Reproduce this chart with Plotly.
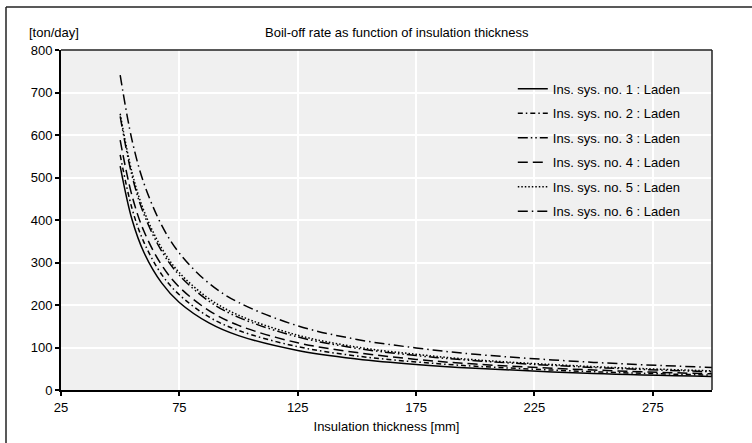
import plotly.graph_objects as go

thickness = [50, 55, 60, 67.5, 75, 87.5, 100, 125, 150, 175, 200, 250, 300]
sys1 = [527, 401, 324, 252, 206, 158, 128, 93, 73, 60, 51, 39, 32]
sys2 = [553, 427, 348, 272, 224, 172, 140, 102, 80, 66, 56, 43, 35]
sys3 = [644, 504, 414, 327, 270, 209, 171, 125, 98, 81, 69, 53, 43]
sys4 = [588, 457, 374, 294, 242, 187, 152, 111, 88, 72, 61, 47, 38]
sys5 = [650, 512, 422, 334, 276, 215, 176, 129, 101, 84, 71, 55, 45]
sys6 = [741, 588, 487, 388, 322, 251, 206, 151, 119, 99, 84, 65, 53]

names = ["Ins. sys. no. %d : Laden" % i for i in range(1, 7)]
series = [sys1, sys2, sys3, sys4, sys5, sys6]
dashes = ["solid", "5px,3px,1.5px,3px", "10px,3px,1.5px,3px,1.5px,3px",
          "10px,5px", "1.5px,2px", "10px,4px,1.5px,4px"]

x_ticks = [25, 75, 125, 175, 225, 275]
y_ticks = [0, 100, 200, 300, 400, 500, 600, 700, 800]

FONT = "Liberation Sans, Arial, sans-serif"
FS = 13

fig = go.Figure()
for i, (nm, ys, dsh) in enumerate(zip(names, series, dashes)):
    fig.add_trace(go.Scatter(
        x=thickness, y=ys, name=nm, mode="lines",
        line=dict(color="black", width=1.5, dash=dsh, shape="spline", smoothing=1.0),
        legendgroup="g%d" % i,
    ))

fig.update_layout(
    width=752, height=443,
    margin=dict(l=61, r=40, t=50, b=53, autoexpand=False),
    paper_bgcolor="white",
    plot_bgcolor="#f0f0f0",
    font=dict(family=FONT, size=FS, color="black"),
    showlegend=True,
    legend=dict(x=0.694, y=0.93, xanchor="left", yanchor="top",
                bgcolor="rgba(0,0,0,0)", borderwidth=0,
                font=dict(family=FONT, size=FS, color="black"),
                tracegroupgap=4.6, itemwidth=30),
    xaxis=dict(range=[25, 300], tickvals=x_ticks, ticktext=[str(v) for v in x_ticks],
               showgrid=True, gridcolor="white", gridwidth=2,
               showline=True, linecolor="black", linewidth=2,
               ticks="outside", ticklen=4, tickwidth=1.5, tickcolor="black",
               zeroline=False, mirror=False, automargin=False,
               title=dict(text="Insulation thickness [mm]", font=dict(size=FS), standoff=8)),
    yaxis=dict(range=[0, 800], tickvals=y_ticks,
               showgrid=True, gridcolor="white", gridwidth=2,
               showline=True, linecolor="black", linewidth=2,
               ticks="outside", ticklen=4, tickwidth=1.5, tickcolor="black",
               zeroline=False, mirror=False, automargin=False),
    annotations=[
        dict(text="Boil-off rate as function of insulation thickness", xref="paper", yref="paper",
             x=(397 - 61) / 651, y=1.0, yshift=18, showarrow=False, xanchor="center", yanchor="middle",
             font=dict(size=FS)),
        dict(text="[ton/day]", xref="paper", yref="paper",
             x=-34 / 651, y=1.0, yshift=18, showarrow=False, xanchor="left", yanchor="middle",
             font=dict(size=FS)),
    ],
    shapes=[
        dict(type="line", xref="paper", yref="paper", x0=0, x1=1, y0=1, y1=1,
             line=dict(color="#222222", width=1.5)),
        dict(type="line", xref="paper", yref="paper", x0=1, x1=1, y0=0, y1=1,
             line=dict(color="#222222", width=1.5)),
        dict(type="line", xref="paper", yref="paper", x0=-55 / 651, x1=-55 / 651,
             y0=-60 / 340, y1=(390 - 7) / 340, line=dict(color="#222222", width=1.5)),
        dict(type="line", xref="paper", yref="paper", x0=-55 / 651, x1=700 / 651,
             y0=(390 - 7) / 340, y1=(390 - 7) / 340, line=dict(color="#222222", width=1.5)),
    ],
)

fig.write_html("out.html")
